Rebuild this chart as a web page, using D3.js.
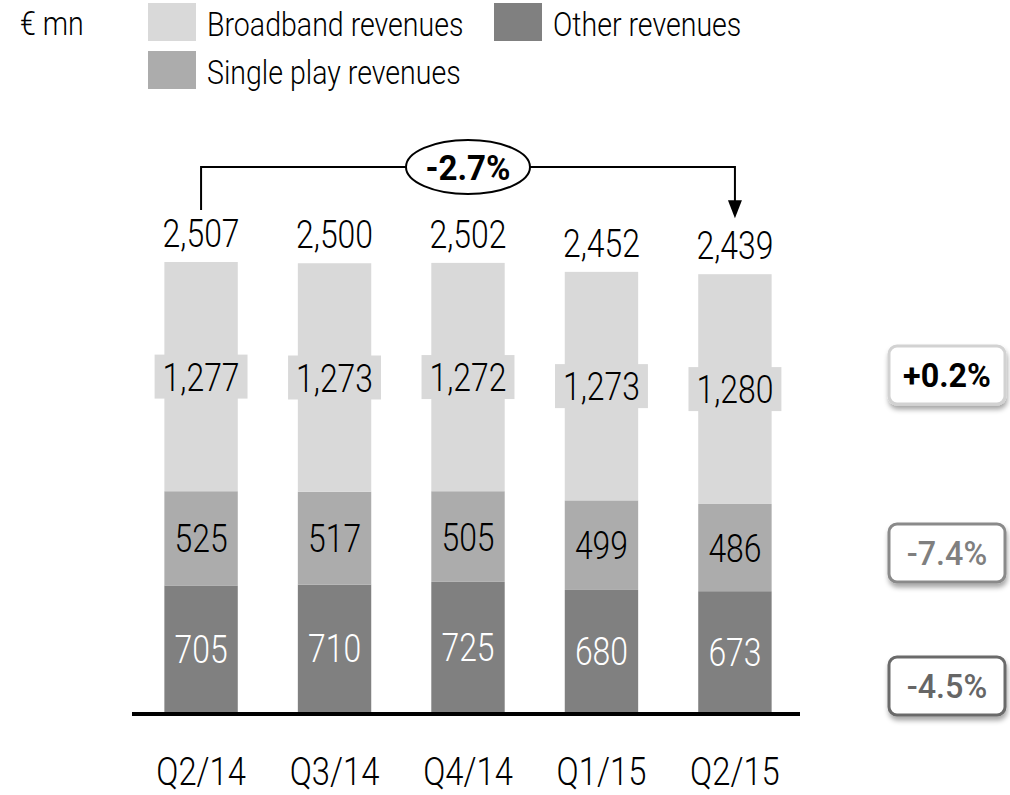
<!DOCTYPE html>
<html>
<head>
<meta charset="utf-8">
<script src="https://cdn.jsdelivr.net/npm/d3@7"></script>
<style>
  body { margin: 0; background: #fff; }
</style>
</head>
<body>
<svg id="chart" width="1010" height="795"></svg>
<script>
// data (EUR mn)
var quarters = ["Q2/14", "Q3/14", "Q4/14", "Q1/15", "Q2/15"];
var otherRevenues = [705, 710, 725, 680, 673];
var singlePlay = [525, 517, 505, 499, 486];
var broadband = [1277, 1273, 1272, 1273, 1280];
var totals = [2507, 2500, 2502, 2452, 2439];
var seriesKeys = ["other", "single", "broadband"];
var seriesColors = ["#808080", "#acacac", "#d9d9d9"];
var changeLabels = ["+0.2%", "-7.4%", "-4.5%"]; // broadband, single play, other
var totalChange = "-2.7%";
var unitLabel = "€ mn";

var svg = d3.select("#chart");
var fmt = d3.format(",");

// thin condensed look: Roboto Light squeezed horizontally
var FONT = "Roboto, 'Liberation Sans', sans-serif";
var SX = 0.84;
function place(x, y) {
  return "translate(" + x + "," + y + ") scale(" + SX + ",1)";
}
function thin(sel, size) {
  return sel.style("font-family", FONT).style("font-weight", 300).style("font-size", size + "px");
}

var rows = quarters.map(function(q, i) {
  return { q: q, other: otherRevenues[i], single: singlePlay[i], broadband: broadband[i], total: totals[i] };
});

var x = d3.scaleBand().domain(quarters).range([131, 805]).paddingInner(0.45).paddingOuter(0.25);
var y = d3.scaleLinear().domain([0, totals[0]]).range([712, 262]);
var color = d3.scaleOrdinal().domain(seriesKeys).range(seriesColors);

var stacked = d3.stack().keys(seriesKeys)(rows);

// shadow for the change boxes
var defs = svg.append("defs");
defs.append("filter").attr("id", "shadow").attr("x", "-20%").attr("y", "-20%").attr("width", "150%").attr("height", "160%")
  .append("feDropShadow").attr("dx", 1).attr("dy", 4).attr("stdDeviation", 2.5)
  .attr("flood-color", "#000").attr("flood-opacity", 0.35);

// bars
var layers = svg.append("g").selectAll("g")
  .data(stacked)
  .enter()
  .append("g")
  .attr("fill", function(d) { return color(d.key); });

layers.selectAll("rect")
  .data(function(d) { return d; })
  .enter()
  .append("rect")
  .attr("x", function(d) { return x(d.data.q); })
  .attr("width", x.bandwidth())
  .attr("y", function(d) { return y(d[1]); })
  .attr("height", function(d) { return y(d[0]) - y(d[1]); });

// segment labels
stacked.forEach(function(layer) {
  var g = svg.append("g");
  layer.forEach(function(d) {
    var cx = x(d.data.q) + x.bandwidth() / 2;
    var cy = (y(d[0]) + y(d[1])) / 2;
    var t = thin(g.append("text"), 38)
      .attr("transform", place(cx, cy + 14))
      .attr("text-anchor", "middle")
      .attr("fill", layer.key === "other" ? "#fff" : "#000")
      .text(fmt(d.data[layer.key]));
    if (layer.key === "broadband") {
      var w = t.node().getBBox().width * SX;
      g.insert("rect", "text")
        .attr("x", cx - w / 2 - 8)
        .attr("y", cy - 22)
        .attr("width", w + 16)
        .attr("height", 44)
        .attr("fill", color("broadband"));
    }
  });
});

// totals
thin(svg.append("g").selectAll("text")
  .data(rows)
  .enter()
  .append("text"), 38)
  .attr("transform", function(d) { return place(x(d.q) + x.bandwidth() / 2, y(d.total) - 15); })
  .attr("text-anchor", "middle")
  .text(function(d) { return fmt(d.total); });

// baseline
svg.append("line")
  .attr("x1", 132).attr("x2", 800)
  .attr("y1", 714).attr("y2", 714)
  .attr("stroke", "#000").attr("stroke-width", 4);

// category labels
thin(svg.append("g").selectAll("text")
  .data(quarters)
  .enter()
  .append("text"), 39)
  .attr("transform", function(d) { return place(x(d) + x.bandwidth() / 2, 785); })
  .attr("text-anchor", "middle")
  .text(function(d) { return d; });

// -2.7% bracket
var xa = x(quarters[0]) + x.bandwidth() / 2;
var xb = x(quarters[quarters.length - 1]) + x.bandwidth() / 2;
var by = 167;
svg.append("path")
  .attr("d", "M" + xa + "," + (y(totals[0]) - 52) + "V" + by + "H" + xb + "V" + (y(totals[4]) - 72))
  .attr("fill", "none").attr("stroke", "#000").attr("stroke-width", 2);
svg.append("path")
  .attr("d", "M" + (xb - 7) + "," + (y(totals[4]) - 74) + "L" + (xb + 7) + "," + (y(totals[4]) - 74) + "L" + xb + "," + (y(totals[4]) - 56) + "Z")
  .attr("fill", "#000");
var ex = (xa + xb) / 2;
svg.append("ellipse")
  .attr("cx", ex).attr("cy", by).attr("rx", 62).attr("ry", 27)
  .attr("fill", "#fff").attr("stroke", "#000").attr("stroke-width", 2);
svg.append("text")
  .attr("transform", "translate(" + ex + "," + (by + 13) + ") scale(0.92,1)")
  .attr("text-anchor", "middle")
  .style("font-family", FONT)
  .style("font-size", "36px").style("font-weight", "bold")
  .text(totalChange);

// change boxes on the right
var boxCenters = [375, 553, 686];
var boxStroke = ["#d2d2d2", "#8a8a8a", "#6a6a6a"];
var boxText = ["#000", "#7f7f7f", "#666"];
var boxWeight = [700, 500, 500];
changeLabels.forEach(function(lbl, i) {
  svg.append("rect")
    .attr("x", 889).attr("y", boxCenters[i] - 29)
    .attr("width", 116).attr("height", 58)
    .attr("rx", 8)
    .attr("fill", "#fff").attr("stroke", boxStroke[i]).attr("stroke-width", 3)
    .attr("filter", "url(#shadow)");
  svg.append("text")
    .attr("transform", "translate(947," + (boxCenters[i] + 12) + ") scale(0.95,1)")
    .attr("text-anchor", "middle")
    .style("font-family", FONT)
    .style("font-size", "34px").style("font-weight", boxWeight[i])
    .attr("fill", boxText[i])
    .text(lbl);
});

// unit + legend
thin(svg.append("text"), 34)
  .attr("transform", place(20, 35))
  .text(unitLabel);

var legendItems = [
  { key: "broadband", label: "Broadband revenues", lx: 148, ly: 3 },
  { key: "other", label: "Other revenues", lx: 494, ly: 3 },
  { key: "single", label: "Single play revenues", lx: 148, ly: 51 }
];
var legend = svg.append("g").selectAll("g")
  .data(legendItems)
  .enter()
  .append("g");
legend.append("rect")
  .attr("x", function(d) { return d.lx; })
  .attr("y", function(d) { return d.ly; })
  .attr("width", 48).attr("height", 38)
  .attr("fill", function(d) { return color(d.key); });
thin(legend.append("text"), 34)
  .attr("transform", function(d) { return place(d.lx + 59, d.ly + 33); })
  .text(function(d) { return d.label; });
</script>
</body>
</html>
